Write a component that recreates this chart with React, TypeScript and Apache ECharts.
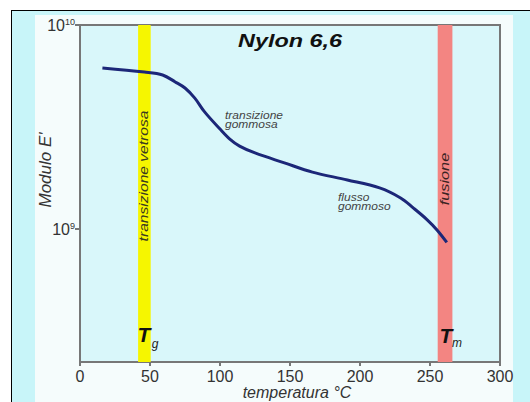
import React, { useEffect, useRef } from "react";
import * as echarts from "echarts";

// Temperature (°C) and storage modulus E' (Pa)
const temperature = [16, 46, 59, 68, 75, 82, 89, 100, 107, 114, 125, 146, 166, 191, 214, 229, 238, 248, 255, 262];
const modulus = [6.16e9, 5.88e9, 5.69e9, 5.26e9, 4.91e9, 4.38e9, 3.75e9, 3.09e9, 2.76e9, 2.55e9, 2.36e9, 2.11e9, 1.9e9, 1.74e9, 1.59e9, 1.42e9, 1.27e9, 1.11e9, 9.9e8, 8.6e8];

// Transition bands (°C)
const glassBand = [41.5, 50.5];
const meltBand = [255.5, 266];

// Axis ranges and tick labels
const xTicks = [0, 50, 100, 150, 200, 250, 300];
const yTicks = [1e9, 1e10];
const yMin = 2.23e8;
const yMax = 1e10;

const FONT = "'Liberation Sans', Arial, Helvetica, sans-serif";

export default function App() {
  const ref = useRef<HTMLDivElement>(null);

  useEffect(() => {
    if (!ref.current) return;
    const chart = echarts.init(ref.current, undefined, { renderer: "svg" });
    const data = temperature.map((t, i) => [t, modulus[i]]);

    const txt = (x: number, y: number, text: string, extra: any = {}, style: any = {}) => ({
      type: "text",
      x,
      y,
      z: 100,
      ...extra,
      style: {
        text,
        fontFamily: FONT,
        fill: "#333",
        textAlign: "center",
        textVerticalAlign: "middle",
        ...style,
      },
    });

    const option: any = {
      animation: false,
      backgroundColor: "transparent",
      grid: {
        left: 80,
        right: 30,
        top: 25,
        bottom: 40,
        outerBoundsMode: "none",
        containLabel: false,
        show: true,
        backgroundColor: "#d9f7fa",
        borderColor: "#777",
        borderWidth: 2,
      },
      xAxis: {
        type: "value",
        min: xTicks[0],
        max: xTicks[xTicks.length - 1],
        interval: 50,
        axisLine: { show: true, lineStyle: { color: "#777", width: 2 } },
        axisTick: { show: true, length: 4, lineStyle: { color: "#777", width: 2 } },
        axisLabel: { fontFamily: FONT, fontSize: 16, lineHeight: 14, color: "#333", margin: 7 },
        splitLine: { show: false },
      },
      yAxis: {
        type: "log",
        logBase: 10,
        min: yMin,
        max: yMax,
        axisLine: { show: true, lineStyle: { color: "#777", width: 2 } },
        axisTick: { show: true, length: 5, customValues: yTicks, lineStyle: { color: "#777", width: 2 } },
        axisLabel: {
          customValues: yTicks,
          margin: 5,
          formatter: (v: number) => `{b|10}{s|${Math.round(Math.log10(v))}}`,
          rich: {
            b: { fontFamily: FONT, fontSize: 16, color: "#333" },
            s: { fontFamily: FONT, fontSize: 9, color: "#333", verticalAlign: "top" },
          },
        },
        splitLine: { show: false },
        minorTick: { show: false },
      },
      series: [
        {
          type: "line",
          data,
          smooth: 0.35,
          symbol: "none",
          lineStyle: { color: "#1c2778", width: 3 },
          z: 5,
          markArea: {
            silent: true,
            label: { show: false },
            data: [
              [{ xAxis: glassBand[0], itemStyle: { color: "#f6f600" } }, { xAxis: glassBand[1] }],
              [{ xAxis: meltBand[0], itemStyle: { color: "#f38582" } }, { xAxis: meltBand[1] }],
            ],
          },
        },
      ],
      graphic: [
        txt(290, 41, "Nylon 6,6", { scaleX: 1.3 }, { fontSize: 18, fontWeight: "bold", fontStyle: "italic", fill: "#111" }),
        txt(297, 392, "temperatura °C", {}, { fontSize: 16, lineHeight: 14, fontStyle: "italic" }),
        txt(45, 170, "Modulo E'", { rotation: Math.PI / 2 }, { fontSize: 17, fontStyle: "italic" }),
        txt(143, 176, "transizione vetrosa", { rotation: Math.PI / 2, scaleX: 1.2 }, { fontSize: 13, fontStyle: "italic", fill: "#3a3a20" }),
        txt(445, 179, "fusione", { rotation: Math.PI / 2, scaleX: 1.25 }, { fontSize: 13, fontStyle: "italic", fill: "#3a2222" }),
        txt(225, 120, "transizione\ngommosa", { scaleX: 1.2 }, { fontSize: 10, lineHeight: 9, fontStyle: "italic", fill: "#444", textAlign: "left" }),
        txt(338, 202, "flusso\ngommoso", { scaleX: 1.2 }, { fontSize: 10, lineHeight: 9, fontStyle: "italic", fill: "#444", textAlign: "left" }),
        txt(144, 334, "T", {}, { fontSize: 21, fontWeight: "bold", fontStyle: "italic", fill: "#111" }),
        txt(155, 344, "g", {}, { fontSize: 12, fontStyle: "italic", fill: "#222" }),
        txt(446, 335, "T", {}, { fontSize: 21, fontWeight: "bold", fontStyle: "italic", fill: "#111" }),
        txt(457, 343, "m", {}, { fontSize: 12, fontStyle: "italic", fill: "#222" }),
      ],
    };

    chart.setOption(option);
    return () => chart.dispose();
  }, []);

  return (
    <div style={{ position: "absolute", left: 0, top: 0, width: 530, height: 402, background: "#fff", overflow: "hidden" }}>
      <div
        style={{
          position: "absolute",
          left: 11,
          top: 10,
          width: 540,
          height: 410,
          background: "#c8f5f9",
          border: "1.5px solid #000",
          boxSizing: "border-box",
        }}
      />
      <div style={{ position: "absolute", left: 35, top: 15, width: 478, height: 400, background: "#f5fcfc" }} />
      <div ref={ref} style={{ position: "absolute", left: 0, top: 0, width: 530, height: 402 }} />
    </div>
  );
}
